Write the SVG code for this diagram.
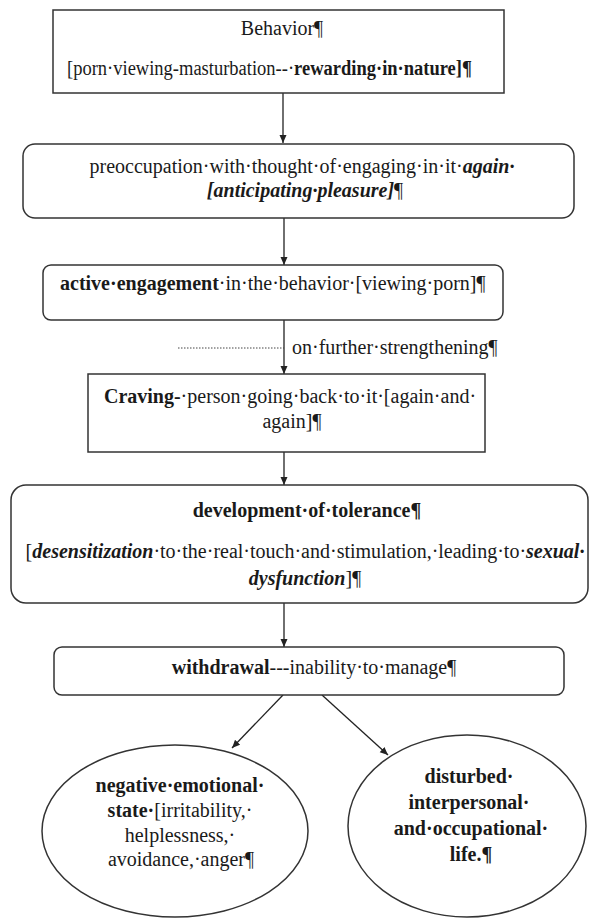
<svg xmlns="http://www.w3.org/2000/svg" width="589" height="919" viewBox="0 0 589 919">
<style>
  .box{fill:#fff;stroke:#333;stroke-width:1.5}
  .t{font-family:"Liberation Serif","Times New Roman",serif;font-size:20px;fill:#1a1a1a}
  .m{text-anchor:middle}
  .b{font-weight:bold}
  .bi{font-weight:bold;font-style:italic}
  .conn{stroke:#222;stroke-width:1.3;fill:none}
  .dot{stroke:#444;stroke-width:1;stroke-dasharray:1.5 1.5;fill:none}
</style>
<defs>
  <marker id="ah" markerWidth="8" markerHeight="8" refX="8" refY="4" orient="auto" markerUnits="userSpaceOnUse">
    <path d="M0,0.5 L8,4 L0,7.5 Z" fill="#222"/>
  </marker>
</defs>
<rect width="589" height="919" fill="#fff"/>

<g id="connectors">
  <line class="conn" x1="283" y1="93" x2="283" y2="143" marker-end="url(#ah)"/>
  <line class="conn" x1="284" y1="218" x2="284" y2="265" marker-end="url(#ah)"/>
  <line class="conn" x1="284" y1="320" x2="284" y2="374" marker-end="url(#ah)"/>
  <line class="dot" x1="178" y1="348" x2="284" y2="348"/>
  <line class="conn" x1="284" y1="452" x2="284" y2="485" marker-end="url(#ah)"/>
  <line class="conn" x1="284" y1="603" x2="284" y2="647" marker-end="url(#ah)"/>
  <line class="conn" x1="283" y1="695" x2="232" y2="748" marker-end="url(#ah)"/>
  <line class="conn" x1="322" y1="695" x2="388" y2="755" marker-end="url(#ah)"/>
  <text class="t" x="292" y="354">on·further·strengthening¶</text>
</g>

<g id="behavior">
  <rect class="box" x="53" y="10" width="451" height="83"/>
  <text class="t m" x="282" y="35">Behavior¶</text>
  <text class="t" x="67" y="75" textLength="405" lengthAdjust="spacingAndGlyphs">[porn·viewing-masturbation--·<tspan class="b">rewarding·in·nature]¶</tspan></text>
</g>

<g id="preoccupation">
  <rect class="box" x="23" y="144" width="551" height="74" rx="12"/>
  <text class="t m" x="302" y="173">preoccupation·with·thought·of·engaging·in·it·<tspan class="bi">again·</tspan></text>
  <text class="t m" x="305" y="197"><tspan class="bi">[anticipating·pleasure]</tspan>¶</text>
</g>

<g id="active-engagement">
  <rect class="box" x="43" y="265" width="460" height="55" rx="8"/>
  <text class="t" x="60" y="290"><tspan class="b">active·engagement</tspan>·in·the·behavior·[viewing·porn]¶</text>
</g>

<g id="craving">
  <rect class="box" x="88" y="374" width="397" height="78"/>
  <text class="t m" x="290" y="403"><tspan class="b">Craving-</tspan>·person·going·back·to·it·[again·and·</text>
  <text class="t m" x="292" y="428">again]¶</text>
</g>

<g id="tolerance">
  <rect class="box" x="11" y="485" width="577" height="118" rx="15"/>
  <text class="t m b" x="307" y="517">development·of·tolerance¶</text>
  <text class="t m" x="305" y="558">[<tspan class="bi">desensitization</tspan>·to·the·real·touch·and·stimulation,·leading·to·<tspan class="bi">sexual·</tspan></text>
  <text class="t m" x="305" y="585"><tspan class="bi">dysfunction</tspan>]¶</text>
</g>

<g id="withdrawal">
  <rect class="box" x="54" y="647" width="510" height="48" rx="8"/>
  <text class="t m" x="314" y="674"><tspan class="b">withdrawal</tspan>---inability·to·manage¶</text>
</g>

<g id="negative-state">
  <ellipse class="box" cx="175" cy="831" rx="133" ry="86"/>
  <text class="t m b" x="180" y="792">negative·emotional·</text>
  <text class="t m" x="180" y="817"><tspan class="b">state·</tspan>[irritability,·</text>
  <text class="t m" x="180" y="842">helplessness,·</text>
  <text class="t m" x="181" y="866">avoidance,·anger¶</text>
</g>

<g id="disturbed-life">
  <ellipse class="box" cx="467" cy="826" rx="119" ry="91"/>
  <text class="t m b" x="469" y="783">disturbed·</text>
  <text class="t m b" x="469" y="809">interpersonal·</text>
  <text class="t m b" x="471" y="835">and·occupational·</text>
  <text class="t m b" x="471" y="861">life.¶</text>
</g>
</svg>
